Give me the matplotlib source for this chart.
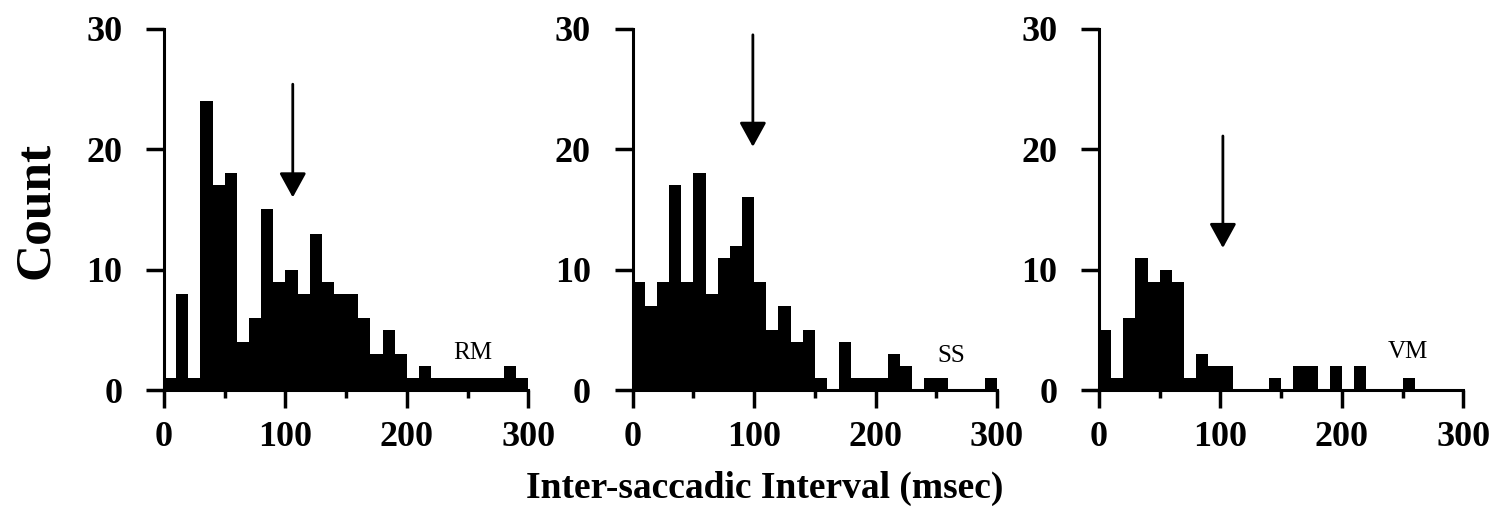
import numpy as np
import matplotlib
matplotlib.use("Agg")
import matplotlib.pyplot as plt

# histogram bins, 10 msec wide from 0 to 300
bin_left = np.arange(0, 300, 10)

# counts per bin
rm_counts = [1, 8, 1, 24, 17, 18, 4, 6, 15, 9, 10, 8, 13, 9, 8,
             8, 6, 3, 5, 3, 1, 2, 1, 1, 1, 1, 1, 1, 2, 1]
ss_counts = [9, 7, 9, 17, 9, 18, 8, 11, 12, 16, 9, 5, 7, 4, 5,
             1, 0, 4, 1, 1, 1, 3, 2, 0, 1, 1, 0, 0, 0, 1]
vm_counts = [5, 1, 6, 11, 9, 10, 9, 1, 3, 2, 2, 0, 0, 0, 1,
             0, 2, 2, 0, 2, 0, 2, 0, 0, 0, 1, 0, 0, 0, 0]

panel_names = ["RM", "SS", "VM"]
panel_counts = [rm_counts, ss_counts, vm_counts]

# arrow x position and its start/end heights (counts)
arrow_x = [106, 99, 102]
arrow_top = [25.4, 29.5, 21.1]
arrow_tip = [16.0, 20.2, 11.8]

# where the panel name sits
name_x = [254, 262, 254]
name_y = [3.1, 2.8, 3.2]

x_ticks = [0, 100, 200, 300]
x_minor = [50, 150, 250]
y_ticks = [0, 10, 20, 30]

plt.rcParams['font.family'] = ['Liberation Serif', 'DejaVu Serif']

fig = plt.figure(figsize=(14.9, 5.14), dpi=100)

lefts = [0.1101, 0.4246, 0.7376]
for i in range(3):
    ax = fig.add_axes([lefts[i], 0.241, 0.2445, 0.703])
    ax.bar(bin_left, panel_counts[i], width=10, align='edge',
           color='black', linewidth=0)
    ax.set_xlim(0, 300)
    ax.set_ylim(0, 30)

    for side in ['top', 'right']:
        ax.spines[side].set_visible(False)
    for side in ['left', 'bottom']:
        ax.spines[side].set_linewidth(2.2)

    ax.set_xticks(x_ticks)
    ax.set_xticks(x_minor, minor=True)
    ax.set_yticks(y_ticks)
    ax.tick_params(axis='both', which='major', direction='out', length=13,
                   width=2.5, labelsize=26)
    ax.tick_params(axis='x', which='minor', direction='out', length=6,
                   width=2.5)
    ax.tick_params(axis='x', which='major', pad=9)
    ax.tick_params(axis='y', which='major', pad=17)
    for lab in ax.get_xticklabels() + ax.get_yticklabels():
        lab.set_fontweight('bold')

    ax.annotate('', xy=(arrow_x[i], arrow_tip[i]),
                xytext=(arrow_x[i], arrow_top[i]),
                arrowprops=dict(arrowstyle='-|>,head_length=1.0,head_width=0.55',
                                lw=2, color='black', mutation_scale=15,
                                shrinkA=0, shrinkB=0))
    ax.text(name_x[i], name_y[i], panel_names[i], fontsize=18,
            ha='center', va='center')

fig.text(0.024, 0.59, 'Count', rotation=90, fontsize=37,
         fontweight='bold', ha='center', va='center')
fig.text(0.513, 0.05, 'Inter-saccadic Interval (msec)', fontsize=27,
         fontweight='bold', ha='center', va='center')

fig.savefig('out.png', dpi=100)
